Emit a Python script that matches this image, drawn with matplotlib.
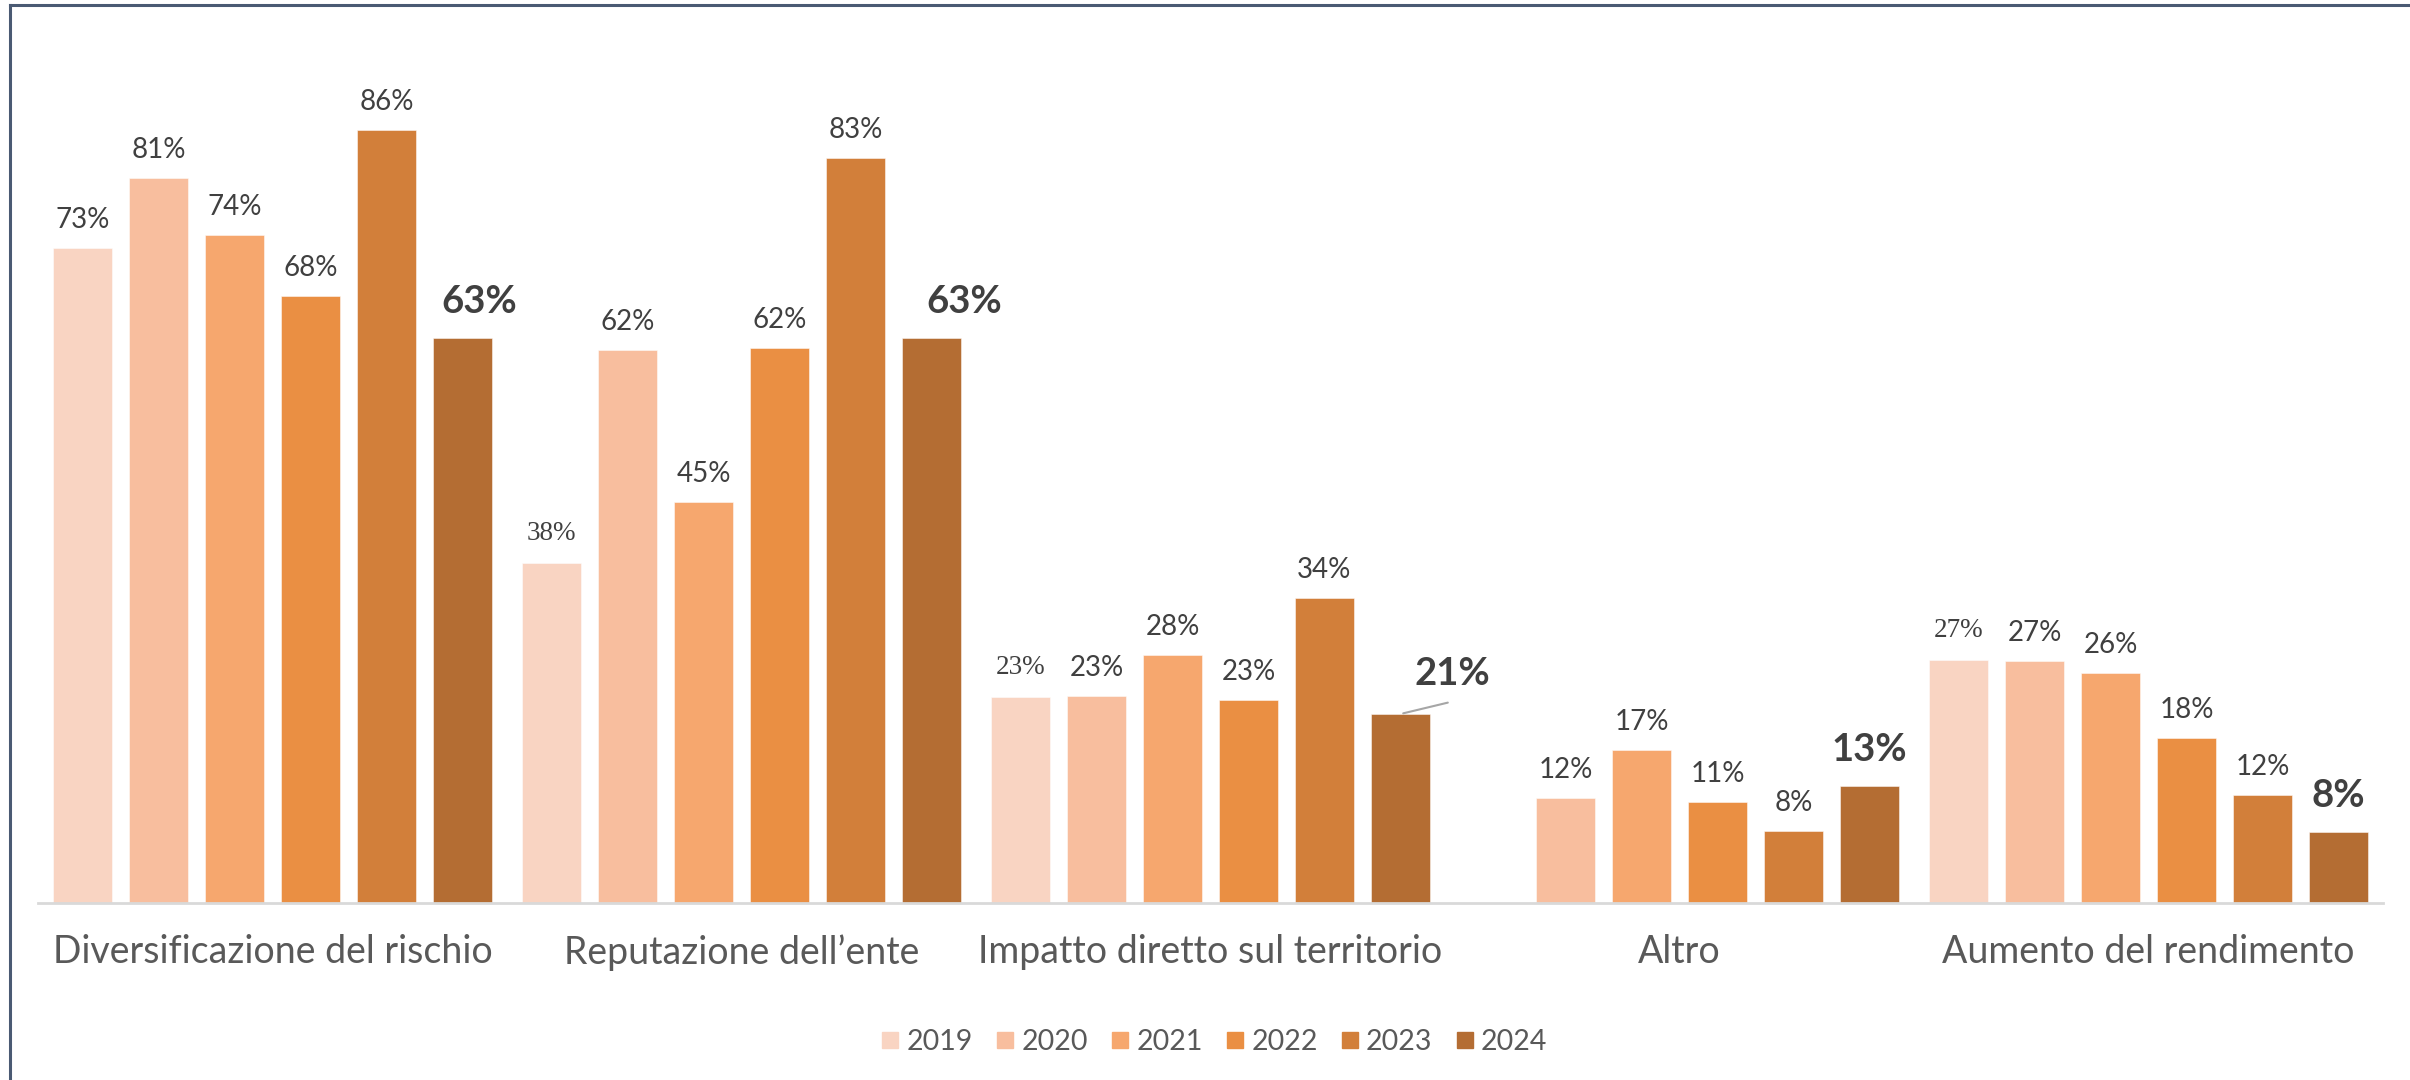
import numpy as np
import matplotlib
matplotlib.use("Agg")
from matplotlib import pyplot as plt
from matplotlib.lines import Line2D

# values (percent)
categories = ["Diversificazione del rischio", "Reputazione dell\u2019ente",
              "Impatto diretto sul territorio", "Altro", "Aumento del rendimento"]
years = ["2019", "2020", "2021", "2022", "2023", "2024"]
v2019 = [72.9, 37.8, 22.9, np.nan, 27.0]
v2020 = [80.7, 61.6, 23.0, 11.6, 26.9]
v2021 = [74.4, 44.6, 27.6, 17.0, 25.6]
v2022 = [67.6, 61.8, 22.6, 11.2, 18.3]
v2023 = [86.0, 82.9, 33.9, 8.0, 12.0]
v2024 = [62.9, 62.9, 21.0, 13.0, 7.9]
series = [v2019, v2020, v2021, v2022, v2023, v2024]
colors = ["#F9D4C2", "#F8BE9E", "#F6A76E", "#EA8F43", "#D27F3A", "#B46D33"]

plt.rcParams['font.family'] = ['Lato', 'DejaVu Sans']

W, H = 2410, 1080
fig = plt.figure(figsize=(W / 100, H / 100), dpi=100)
# axes: x from 38 to 2383 px, baseline at y=902, 1% = 8.977 px
ax = fig.add_axes([38 / W, (H - 902.5) / H, 2345 / W, 897.7 / H])
ax.set_xlim(-0.5, 4.5)
ax.set_ylim(0, 100)

cat_w = 469.0
bar_w = 59.3 / cat_w
pitch = 76.0 / cat_w
x = np.arange(len(categories))

for j, (vals, col) in enumerate(zip(series, colors)):
    xs = x + (j - 2.5) * pitch
    ax.bar(xs, vals, width=bar_w, color=col, edgecolor=(1, 1, 1, 0.5),
           linewidth=0.7, zorder=2)
    for i, v in enumerate(vals):
        if np.isnan(v):
            continue
        lab = "%d%%" % int(round(v))
        if j == 5:
            dx = {0: 17, 1: 33, 2: 52}.get(i, 0)
            dy = 23 if i == 2 else 19
            ax.annotate(lab, (xs[i], v), xytext=(dx, dy), textcoords='offset pixels',
                        ha='center', va='bottom', fontsize=27.5, fontweight='bold',
                        color='#404040')
            if i == 2:
                ax.annotate("", (xs[i], v), xytext=(50, 12), textcoords='offset pixels',
                            arrowprops=dict(arrowstyle='-', color='#A6A6A6', lw=1.5))
        elif j == 0 and i in (1, 2, 4):
            ax.annotate(lab, (xs[i], v), xytext=(0, 17), textcoords='offset pixels',
                        ha='center', va='bottom', fontsize=19.5, color='#404040',
                        family=['Liberation Serif'])
        else:
            ax.annotate(lab, (xs[i], v), xytext=(0, 15), textcoords='offset pixels',
                        ha='center', va='bottom', fontsize=20, color='#404040')

for s in ["top", "right", "left"]:
    ax.spines[s].set_visible(False)
ax.spines["bottom"].set_color("#D9D9D9")
ax.spines["bottom"].set_linewidth(2)
ax.set_yticks([])
ax.set_xticks(x)
ax.set_xticklabels(categories, fontsize=27, color="#595959")
ax.tick_params(axis='x', length=0, pad=23)

handles = [Line2D([], [], marker='s', linestyle='none', markersize=11,
                  markerfacecolor=c, markeredgecolor=c) for c in colors]
fig.legend(handles, years, loc='center', bbox_to_anchor=(1215 / W, 1 - 1042 / H),
           ncol=6, frameon=False, fontsize=20.5, handlelength=0.55,
           handletextpad=0.3, columnspacing=0.85, labelcolor="#595959")

# outer frame (only left and top edges show in the reference)
fig.add_artist(Line2D([9.5 / W, 9.5 / W], [0, 1 - 5 / H], transform=fig.transFigure,
                      color="#4A5A73", lw=2.2))
fig.add_artist(Line2D([9.5 / W, 1], [1 - 5 / H, 1 - 5 / H], transform=fig.transFigure,
                      color="#4A5A73", lw=2.2))

fig.savefig("out.png", dpi=100, facecolor="white")
